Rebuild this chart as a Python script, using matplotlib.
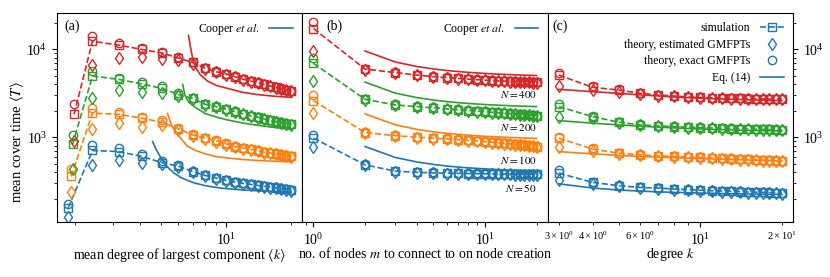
import matplotlib
matplotlib.use("Agg")
import matplotlib.pyplot as plt

plt.rcParams['font.family'] = ['Liberation Serif', 'DejaVu Serif']
plt.rcParams['mathtext.fontset'] = 'stix'

sizes = [50, 100, 200, 400]
colors = ['#1f77b4', '#ff7f0e', '#2ca02c', '#d62728']

# ---------------- panel (a) ----------------
xa_first = [1.86, 1.92, 1.95, 1.98]
xa_common = [2.41, 3.18, 4.08, 5.03, 6.01, 7.0, 8.0, 9.0, 10.0, 11.0, 12.0,
             13.0, 14.0, 15.0, 16.0, 17.0, 18.0, 19.0, 20.0]

a_sim_50 = [156, 705, 686, 603, 514, 468, 406, 366, 342, 321, 308, 297, 289, 282, 276, 270, 265, 260, 255, 250]
a_est_50 = [123, 484, 552, 514, 490, 455, 398, 360, 336, 316, 303, 292, 284, 277, 271, 266, 261, 256, 251, 246]
a_exa_50 = [173, 817, 750, 635, 530, 476, 412, 371, 346, 325, 311, 300, 292, 285, 279, 273, 268, 263, 258, 253]

a_sim_100 = [357, 1874, 1825, 1645, 1480, 1250, 1062, 975, 908, 840, 782, 750, 724, 700, 676, 660, 646, 631, 618, 603]
a_est_100 = [237, 1243, 1443, 1320, 1380, 1200, 1035, 955, 890, 825, 770, 740, 714, 690, 668, 652, 638, 624, 611, 597]
a_exa_100 = [433, 2140, 1955, 1716, 1550, 1280, 1080, 990, 920, 850, 792, 758, 732, 707, 683, 666, 652, 637, 623, 608]

a_sim_200 = [832, 4980, 4560, 4040, 3600, 3060, 2770, 2370, 2230, 2080, 1950, 1840, 1745, 1690, 1615, 1560, 1500, 1465, 1430, 1405]
a_est_200 = [437, 2770, 3440, 3300, 3210, 2950, 2690, 2320, 2190, 2045, 1920, 1815, 1725, 1670, 1598, 1545, 1487, 1452, 1418, 1393]
a_exa_200 = [1062, 5660, 4700, 4280, 3830, 3200, 2830, 2410, 2260, 2105, 1972, 1860, 1762, 1705, 1630, 1573, 1512, 1476, 1440, 1415]

a_sim_400 = [1825, 12400, 11200, 10000, 9140, 8000, 7100, 6100, 5570, 5240, 4890, 4560, 4360, 4170, 4000, 3830, 3700, 3570, 3445, 3360]
a_est_400 = [900, 6620, 7900, 8240, 7800, 7600, 6900, 5980, 5480, 5160, 4820, 4500, 4310, 4120, 3960, 3795, 3670, 3540, 3420, 3335]
a_exa_400 = [2390, 14170, 11700, 10500, 9400, 8200, 7250, 6200, 5640, 5300, 4940, 4600, 4400, 4200, 4030, 3860, 3725, 3595, 3468, 3380]

coop_a_x_50 = [4.57, 4.75, 5.0, 5.3, 5.7, 6.2, 7.0, 8.0, 9.5, 12, 15, 20]
coop_a_y_50 = [890, 720, 580, 470, 395, 345, 305, 280, 262, 250, 243, 237]
coop_a_x_100 = [5.36, 5.6, 5.93, 6.3, 6.6, 7.2, 8.0, 8.9, 10, 12, 15, 20]
coop_a_y_100 = [1862, 1349, 1096, 912, 794, 708, 646, 603, 582, 556, 537, 525]
coop_a_x_200 = [6.3, 6.45, 6.7, 7.2, 8.0, 9.0, 10, 12, 14, 17, 20]
coop_a_y_200 = [3981, 3020, 2512, 2188, 1862, 1698, 1585, 1445, 1365, 1288, 1230]
coop_a_x_400 = [6.7, 6.85, 7.0, 7.2, 7.6, 8.2, 9, 10, 12, 14, 17, 20]
coop_a_y_400 = [14450, 10470, 7943, 6310, 5129, 4365, 3890, 3631, 3236, 3055, 2917, 2851]

# ---------------- panel (b) ----------------
mb = list(range(1, 21))
b_sim_50 = [975, 484, 410, 398, 392, 389, 387, 385, 384, 383, 382, 381, 380, 380, 379, 379, 378, 378, 377, 377]
b_est_50 = [782, 478, 405, 394, 388, 385, 383, 381, 380, 379, 378, 377, 376, 376, 375, 375, 374, 374, 373, 373]
b_exa_50 = [1062, 490, 415, 402, 396, 393, 391, 389, 388, 387, 386, 385, 384, 384, 383, 383, 382, 382, 381, 381]

b_sim_100 = [2605, 1128, 1040, 1000, 975, 955, 935, 920, 905, 890, 875, 862, 850, 840, 830, 820, 810, 800, 790, 782]
b_est_100 = [1890, 1110, 1025, 988, 962, 942, 924, 909, 895, 881, 867, 855, 844, 834, 824, 815, 805, 796, 786, 778]
b_exa_100 = [3020, 1145, 1055, 1012, 987, 967, 947, 932, 916, 900, 884, 870, 857, 846, 836, 826, 815, 805, 794, 786]

b_sim_200 = [6930, 2700, 2330, 2230, 2160, 2100, 2050, 2010, 1980, 1950, 1920, 1900, 1880, 1860, 1840, 1820, 1800, 1785, 1770, 1750]
b_est_200 = [4360, 2660, 2300, 2200, 2135, 2078, 2030, 1990, 1960, 1930, 1902, 1882, 1862, 1843, 1823, 1804, 1785, 1770, 1755, 1737]
b_exa_200 = [7900, 2740, 2360, 2260, 2185, 2122, 2070, 2030, 1998, 1968, 1938, 1917, 1896, 1876, 1856, 1836, 1815, 1800, 1785, 1763]

b_sim_400 = [17300, 5970, 5450, 5100, 4900, 4770, 4670, 4590, 4520, 4470, 4420, 4380, 4350, 4320, 4290, 4270, 4250, 4230, 4215, 4200]
b_est_400 = [9550, 5900, 5400, 5060, 4860, 4735, 4635, 4555, 4488, 4438, 4390, 4350, 4320, 4290, 4262, 4242, 4222, 4202, 4187, 4172]
b_exa_400 = [20600, 6050, 5520, 5150, 4945, 4810, 4710, 4630, 4560, 4510, 4460, 4420, 4390, 4360, 4330, 4310, 4290, 4270, 4255, 4240]

coop_b_x = [2, 3, 4, 5, 6, 7, 8, 10, 12, 14, 16, 18, 20]
coop_b_50 = [782, 587, 522, 489, 469, 456, 447, 435, 427, 421, 417, 414, 412]
coop_b_100 = [1842, 1382, 1228, 1151, 1105, 1075, 1053, 1023, 1005, 992, 982, 975, 969]
coop_b_200 = [4239, 3179, 2826, 2649, 2543, 2473, 2422, 2355, 2312, 2283, 2261, 2244, 2231]
coop_b_400 = [9586, 7190, 6391, 5992, 5752, 5592, 5478, 5326, 5229, 5162, 5113, 5075, 5045]

# ---------------- panel (c) ----------------
kc = list(range(3, 21))
c_sim_50 = [389, 305, 280, 267, 263, 256, 252, 248, 245, 243, 241, 239, 237, 236, 235, 234, 232, 231]
c_est_50 = [327, 295, 275, 263, 259, 253, 249, 245, 242, 240, 238, 236, 234, 233, 232, 231, 229, 228]
c_exa_50 = [425, 312, 284, 270, 265, 258, 254, 250, 247, 245, 243, 241, 239, 238, 237, 236, 234, 233]

c_sim_100 = [975, 731, 658, 630, 612, 603, 595, 588, 580, 574, 568, 562, 557, 552, 548, 544, 541, 538]
c_est_100 = [782, 700, 645, 620, 604, 596, 588, 581, 574, 568, 562, 556, 551, 546, 542, 538, 535, 532]
c_exa_100 = [1010, 745, 665, 635, 616, 607, 599, 592, 584, 578, 572, 566, 561, 556, 552, 548, 545, 542]

c_sim_200 = [2230, 1715, 1480, 1380, 1344, 1320, 1300, 1285, 1272, 1262, 1253, 1246, 1240, 1234, 1229, 1224, 1217, 1211]
c_est_200 = [1715, 1640, 1450, 1360, 1328, 1306, 1287, 1273, 1261, 1251, 1242, 1235, 1229, 1223, 1218, 1213, 1206, 1200]
c_exa_200 = [2390, 1750, 1500, 1395, 1356, 1331, 1311, 1295, 1282, 1271, 1262, 1255, 1249, 1243, 1238, 1233, 1226, 1220]

c_sim_400 = [5100, 3700, 3445, 3160, 3020, 2945, 2880, 2840, 2810, 2790, 2770, 2760, 2750, 2740, 2730, 2725, 2722, 2720]
c_est_400 = [3830, 3445, 3300, 3100, 2980, 2910, 2850, 2812, 2784, 2765, 2746, 2736, 2726, 2717, 2708, 2703, 2700, 2698]
c_exa_400 = [5420, 3800, 3500, 3200, 3050, 2970, 2900, 2858, 2828, 2808, 2788, 2777, 2767, 2757, 2747, 2742, 2739, 2737]

eq14_x = [3, 4, 5, 6, 7, 8, 10, 12, 14, 17, 20]
eq14_50 = [294, 263, 250, 243, 238, 235, 231, 228, 226, 224, 222]
eq14_100 = [685, 646, 620, 603, 592, 583, 570, 560, 552, 543, 535]
eq14_200 = [1545, 1443, 1380, 1335, 1300, 1275, 1240, 1215, 1200, 1185, 1175]
eq14_400 = [3510, 3300, 3160, 3030, 2950, 2870, 2780, 2720, 2680, 2640, 2610]

n_labels = ['$N = 50$', '$N = 100$', '$N = 200$', '$N = 400$']
n_label_y = [265, 552, 1290, 3090]

# ------------------------------------------------------------------
fig = plt.figure(figsize=(8.3, 2.77), dpi=100)
gs = fig.add_gridspec(1, 3, left=0.0687, right=0.9554, bottom=0.1986, top=0.953, wspace=0)
axa = fig.add_subplot(gs[0])
axb = fig.add_subplot(gs[1], sharey=axa)
axc = fig.add_subplot(gs[2], sharey=axa)

ms = 6.0
lw = 1.2
mew = 1.0


def draw(ax, x, sim, est, exa, col):
    ax.plot(x, sim, ls='--', color=col, lw=lw, marker='s', ms=ms, mfc='none', mew=mew)
    ax.plot(x, est, ls='none', color=col, marker='d', ms=ms + 0.5, mfc='none', mew=mew)
    ax.plot(x, exa, ls='none', color=col, marker='o', ms=ms, mfc='none', mew=mew)


a_sims = [a_sim_50, a_sim_100, a_sim_200, a_sim_400]
a_ests = [a_est_50, a_est_100, a_est_200, a_est_400]
a_exas = [a_exa_50, a_exa_100, a_exa_200, a_exa_400]
coop_ax = [coop_a_x_50, coop_a_x_100, coop_a_x_200, coop_a_x_400]
coop_ay = [coop_a_y_50, coop_a_y_100, coop_a_y_200, coop_a_y_400]
for i, col in enumerate(colors):
    x = [xa_first[i]] + xa_common
    draw(axa, x, a_sims[i], a_ests[i], a_exas[i], col)
    axa.plot(coop_ax[i], coop_ay[i], '-', color=col, lw=lw)

b_sims = [b_sim_50, b_sim_100, b_sim_200, b_sim_400]
b_ests = [b_est_50, b_est_100, b_est_200, b_est_400]
b_exas = [b_exa_50, b_exa_100, b_exa_200, b_exa_400]
coop_bs = [coop_b_50, coop_b_100, coop_b_200, coop_b_400]
for i, col in enumerate(colors):
    draw(axb, mb, b_sims[i], b_ests[i], b_exas[i], col)
    axb.plot(coop_b_x, coop_bs[i], '-', color=col, lw=lw)
    axb.text(20, n_label_y[i], n_labels[i], ha='right', va='center', fontsize=8)

c_sims = [c_sim_50, c_sim_100, c_sim_200, c_sim_400]
c_ests = [c_est_50, c_est_100, c_est_200, c_est_400]
c_exas = [c_exa_50, c_exa_100, c_exa_200, c_exa_400]
eq14s = [eq14_50, eq14_100, eq14_200, eq14_400]
for i, col in enumerate(colors):
    draw(axc, kc, c_sims[i], c_ests[i], c_exas[i], col)
    axc.plot(eq14_x, eq14s[i], '-', color=col, lw=lw)

for ax in (axa, axb, axc):
    ax.set_xscale('log')
    ax.set_yscale('log')
    ax.tick_params(axis='both', which='major', labelsize=10)
    ax.tick_params(axis='x', which='minor', labelsize=7.5)

axa.set_ylim(108, 26000)

axb.tick_params(axis='y', which='both', left=False, labelleft=False)
axc.tick_params(axis='y', which='both', left=False, labelleft=False, right=True, labelright=True)

axa.set_ylabel(r'mean cover time $\langle T\rangle$', fontsize=10.5)
axa.yaxis.set_label_coords(-0.125, 0.38)
axa.set_xlabel(r'mean degree of largest component $\langle k\rangle$', fontsize=10, labelpad=-1)
axb.set_xlabel(r'no. of nodes $m$ to connect to on node creation', fontsize=10, labelpad=-1)
axc.set_xlabel(r'degree $k$', fontsize=10, labelpad=-1)

for ax, lab, xp in zip((axa, axb, axc), ('(a)', '(b)', '(c)'), (0.03, 0.1, 0.02)):
    ax.text(xp, 0.935, lab, transform=ax.transAxes, fontsize=10, va='center', ha='left')

c0 = colors[0]
for ax in (axa, axb):
    h = [plt.Line2D([], [], color=c0, lw=lw)]
    ax.legend(h, [r'Cooper $et\ al.$'], loc='upper right', frameon=False,
              markerfirst=False, fontsize=8.5, handlelength=2.0, borderaxespad=0.4)

hc = [plt.Line2D([], [], color=c0, lw=lw, ls='--', marker='s', ms=ms, mfc='none', mew=mew),
      plt.Line2D([], [], color=c0, ls='none', marker='d', ms=ms + 0.5, mfc='none', mew=mew),
      plt.Line2D([], [], color=c0, ls='none', marker='o', ms=ms, mfc='none', mew=mew),
      plt.Line2D([], [], color=c0, lw=lw)]
axc.legend(hc, ['simulation', 'theory, estimated GMFPTs', 'theory, exact GMFPTs', 'Eq. (14)'],
           loc='upper right', frameon=False, markerfirst=False, fontsize=8.5,
           handlelength=2.0, labelspacing=0.38, borderaxespad=0.4)

fig.savefig('out.png', dpi=100)
